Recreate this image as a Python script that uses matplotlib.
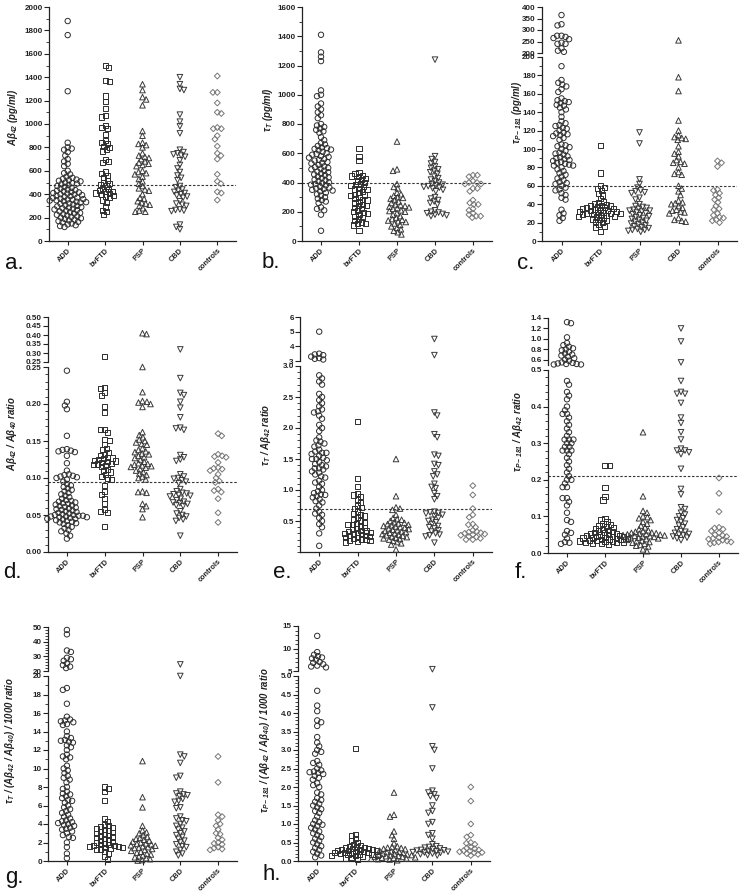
import matplotlib
matplotlib.use('Agg')
import matplotlib.pyplot as plt
import numpy as np

plt.rcParams['font.family'] = ['Liberation Sans', 'DejaVu Sans']
plt.rcParams['font.weight'] = 'bold'
plt.rcParams['mathtext.default'] = 'regular'

W, H = 740, 892
groups = ['ADD', 'bvFTD', 'PSP', 'CBD', 'controls']

# ---- a. Abeta42 (pg/ml)
ADD_a = [1880, 1760, 1280, 840, 800, 790, 780, 760, 730, 700, 680, 660, 640, 600, 580, 570, 550, 540,
         530, 525, 520, 515, 510, 500, 495, 490, 485, 478, 470, 462, 455, 448, 440, 435, 430, 425, 420,
         415, 410, 405, 400, 398, 392, 388, 383, 378, 372, 368, 362, 358, 355, 352, 348, 345, 340, 336,
         332, 328, 322, 318, 312, 306, 300, 296, 290, 285, 280, 275, 270, 264, 258, 252, 246, 240, 235,
         230, 224, 218, 212, 206, 200, 194, 188, 182, 176, 170, 164, 158, 150, 142, 135, 128, 120]
bvFTD_a = [1500, 1480, 1370, 1360, 1240, 1190, 1130, 1070, 1060, 990, 970, 960, 910, 860, 840, 830, 810,
           800, 780, 770, 700, 680, 670, 590, 580, 560, 540, 520, 500, 490, 480, 470, 450, 440, 430, 425,
           420, 410, 405, 400, 390, 380, 370, 350, 330, 290, 260, 250, 225]
PSP_a = [1340, 1290, 1230, 1210, 1160, 940, 900, 840, 830, 820, 800, 750, 730, 720, 710, 700, 680, 670,
         660, 650, 640, 600, 590, 580, 570, 550, 530, 510, 490, 470, 450, 440, 430, 400, 370, 360, 340,
         330, 320, 310, 300, 280, 260, 250, 250]
CBD_a = [1400, 1340, 1300, 1290, 1080, 1020, 980, 920, 780, 760, 750, 740, 730, 720, 690, 650, 620, 590,
         560, 540, 520, 470, 460, 440, 430, 420, 410, 400, 390, 380, 370, 340, 320, 310, 300, 270, 265,
         260, 255, 140, 120, 100]
ctrl_a = [1410, 1270, 1270, 1180, 1100, 1090, 970, 960, 960, 900, 870, 810, 750, 730, 700, 570, 510, 490,
          420, 410, 350]

# ---- b. tau T (pg/ml)
ADD_b = [1410, 1290, 1260, 1230, 1030, 1000, 990, 940, 920, 900, 880, 860, 840, 800, 790, 780, 770, 760,
         750, 740, 710, 690, 670, 660, 650, 640, 635, 630, 625, 620, 610, 600, 595, 590, 580, 575, 570,
         560, 555, 550, 540, 535, 530, 520, 510, 505, 500, 495, 490, 480, 475, 470, 460, 455, 450, 440,
         435, 430, 420, 415, 410, 400, 395, 390, 385, 380, 370, 365, 360, 355, 350, 345, 340, 330, 320,
         310, 300, 290, 280, 270, 260, 230, 220, 210, 180, 70]
bvFTD_b = [630, 580, 550, 470, 460, 450, 445, 440, 430, 420, 410, 400, 390, 385, 380, 370, 360, 355, 350,
           340, 330, 320, 315, 310, 300, 290, 285, 280, 270, 260, 250, 245, 240, 230, 220, 210, 200, 195,
           190, 180, 170, 160, 150, 140, 130, 120, 120, 110, 70]
PSP_b = [680, 490, 480, 390, 370, 360, 330, 320, 310, 300, 295, 290, 280, 270, 260, 250, 245, 240, 235,
         230, 225, 220, 210, 205, 200, 190, 180, 170, 160, 150, 145, 140, 135, 130, 120, 110, 100, 90,
         80, 70, 60, 45]
CBD_b = [1240, 580, 560, 540, 530, 510, 500, 490, 480, 470, 460, 440, 430, 420, 410, 400, 390, 385, 380,
         375, 370, 365, 360, 350, 340, 300, 290, 280, 270, 260, 250, 210, 200, 195, 190, 185, 180, 175,
         170]
ctrl_b = [450, 450, 440, 410, 400, 400, 390, 390, 360, 360, 340, 280, 260, 250, 250, 220, 210, 190, 180,
          170, 170, 160]

# ---- c. tau P-181 (pg/ml)
ADD_c = [365, 325, 320, 275, 275, 270, 265, 260, 245, 240, 240, 220, 210, 205, 190, 175, 172, 170, 168,
         165, 162, 155, 153, 152, 151, 150, 148, 147, 145, 143, 140, 135, 130, 128, 126, 125, 123, 122,
         120, 118, 117, 116, 115, 114, 112, 110, 105, 104, 103, 102, 100, 98, 96, 95, 94, 92, 91, 90, 89,
         88, 87, 86, 85, 84, 83, 82, 82, 80, 78, 76, 74, 72, 70, 68, 66, 64, 63, 62, 60, 58, 56, 55, 52,
         50, 47, 45, 34, 30, 28, 25, 22]
bvFTD_c = [104, 74, 60, 58, 57, 55, 52, 50, 46, 43, 42, 41, 40, 39, 38, 38, 37, 36, 36, 35, 35, 34, 34,
           33, 33, 32, 32, 31, 31, 30, 30, 30, 29, 29, 28, 28, 27, 27, 26, 25, 24, 23, 22, 21, 20, 18,
           16, 15, 10]
PSP_c = [118, 106, 67, 62, 58, 55, 54, 53, 52, 47, 45, 40, 38, 37, 36, 35, 34, 33, 33, 32, 31, 30, 29,
         28, 27, 26, 25, 24, 23, 22, 21, 20, 19, 18, 17, 16, 15, 14, 13, 12, 12, 11, 10]
CBD_c = [255, 178, 163, 131, 120, 115, 113, 112, 111, 110, 103, 97, 95, 92, 88, 86, 85, 84, 80, 75, 73,
         72, 60, 57, 54, 50, 44, 42, 41, 40, 38, 36, 34, 33, 32, 31, 30, 25, 23, 22, 21]
ctrl_c = [87, 85, 81, 56, 55, 52, 50, 47, 45, 42, 38, 35, 34, 30, 28, 26, 25, 23, 22, 20]

# ---- d. Abeta42 / Abeta40 ratio
ADD_d = [0.245, 0.203, 0.198, 0.193, 0.157, 0.139, 0.138, 0.137, 0.136, 0.135, 0.13, 0.12, 0.11, 0.105,
         0.104, 0.103, 0.102, 0.101, 0.1, 0.098, 0.095, 0.092, 0.09, 0.088, 0.086, 0.084, 0.082, 0.08,
         0.078, 0.076, 0.074, 0.072, 0.07, 0.069, 0.068, 0.067, 0.066, 0.065, 0.064, 0.063, 0.062, 0.061,
         0.06, 0.059, 0.058, 0.057, 0.056, 0.055, 0.054, 0.053, 0.052, 0.051, 0.05, 0.05, 0.049, 0.049,
         0.048, 0.048, 0.047, 0.047, 0.046, 0.045, 0.045, 0.044, 0.043, 0.042, 0.041, 0.04, 0.039, 0.038,
         0.036, 0.034, 0.032, 0.03, 0.028, 0.025, 0.022, 0.018]
bvFTD_d = [0.28, 0.222, 0.221, 0.215, 0.212, 0.197, 0.188, 0.166, 0.165, 0.162, 0.152, 0.151, 0.145,
           0.14, 0.138, 0.135, 0.132, 0.13, 0.128, 0.127, 0.126, 0.125, 0.124, 0.123, 0.122, 0.121, 0.12,
           0.119, 0.118, 0.117, 0.115, 0.112, 0.11, 0.108, 0.105, 0.102, 0.1, 0.098, 0.09, 0.082, 0.078,
           0.072, 0.065, 0.057, 0.055, 0.053, 0.034]
PSP_d = [0.41, 0.405, 0.25, 0.216, 0.204, 0.203, 0.202, 0.2, 0.196, 0.162, 0.158, 0.155, 0.152, 0.15,
         0.148, 0.146, 0.145, 0.14, 0.138, 0.136, 0.135, 0.133, 0.132, 0.13, 0.128, 0.127, 0.125, 0.122,
         0.12, 0.119, 0.118, 0.117, 0.116, 0.115, 0.114, 0.112, 0.11, 0.108, 0.106, 0.104, 0.102, 0.1,
         0.098, 0.082, 0.081, 0.08, 0.065, 0.062, 0.058, 0.047]
CBD_d = [0.32, 0.235, 0.215, 0.212, 0.203, 0.195, 0.182, 0.168, 0.167, 0.165, 0.131, 0.128, 0.125,
         0.123, 0.105, 0.102, 0.1, 0.099, 0.097, 0.095, 0.093, 0.085, 0.082, 0.08, 0.079, 0.078, 0.077,
         0.076, 0.075, 0.072, 0.07, 0.068, 0.067, 0.066, 0.065, 0.063, 0.062, 0.055, 0.052, 0.05, 0.048,
         0.046, 0.044, 0.042, 0.022]
ctrl_d = [0.16, 0.157, 0.132, 0.13, 0.129, 0.128, 0.121, 0.114, 0.113, 0.112, 0.11, 0.105, 0.1, 0.096,
          0.094, 0.085, 0.083, 0.081, 0.072, 0.053, 0.04]

# ---- e. tau T / Abeta42 ratio
ADD_e = [5.0, 3.5, 3.45, 3.4, 3.3, 3.2, 3.15, 3.1, 2.85, 2.8, 2.75, 2.7, 2.55, 2.5, 2.45, 2.4, 2.35, 2.3,
         2.27, 2.25, 2.2, 2.15, 2.05, 2.0, 1.95, 1.85, 1.8, 1.78, 1.75, 1.72, 1.7, 1.65, 1.62, 1.6, 1.6,
         1.58, 1.55, 1.52, 1.5, 1.5, 1.48, 1.45, 1.42, 1.4, 1.38, 1.35, 1.35, 1.33, 1.3, 1.28, 1.25, 1.22,
         1.2, 1.15, 1.12, 1.1, 1.05, 1.0, 0.98, 0.95, 0.93, 0.92, 0.9, 0.88, 0.85, 0.82, 0.8, 0.75, 0.7,
         0.65, 0.62, 0.6, 0.55, 0.5, 0.45, 0.4, 0.3, 0.1]
bvFTD_e = [2.1, 1.18, 1.05, 0.95, 0.92, 0.9, 0.85, 0.8, 0.75, 0.72, 0.7, 0.65, 0.62, 0.6, 0.58, 0.55,
           0.52, 0.5, 0.48, 0.46, 0.45, 0.44, 0.42, 0.4, 0.38, 0.36, 0.35, 0.34, 0.33, 0.32, 0.31, 0.3,
           0.29, 0.28, 0.27, 0.26, 0.25, 0.24, 0.23, 0.22, 0.21, 0.2, 0.19, 0.18, 0.17, 0.16]
PSP_e = [1.5, 0.9, 0.72, 0.7, 0.68, 0.6, 0.55, 0.53, 0.52, 0.5, 0.48, 0.47, 0.46, 0.45, 0.44, 0.43,
         0.42, 0.41, 0.4, 0.39, 0.38, 0.37, 0.36, 0.35, 0.34, 0.33, 0.32, 0.31, 0.3, 0.29, 0.28, 0.27,
         0.26, 0.25, 0.24, 0.23, 0.22, 0.21, 0.2, 0.18, 0.16, 0.14, 0.12, 0.04]
CBD_e = [4.5, 3.4, 2.25, 2.2, 1.9, 1.85, 1.57, 1.55, 1.42, 1.4, 1.3, 1.25, 1.22, 1.1, 1.05, 1.03, 0.95,
         0.9, 0.85, 0.65, 0.64, 0.63, 0.62, 0.6, 0.58, 0.55, 0.52, 0.5, 0.48, 0.45, 0.42, 0.4, 0.38,
         0.35, 0.33, 0.3, 0.28, 0.27, 0.25, 0.15]
ctrl_e = [1.07, 0.92, 0.7, 0.6, 0.56, 0.45, 0.44, 0.4, 0.35, 0.33, 0.32, 0.31, 0.3, 0.29, 0.28, 0.27,
          0.25, 0.24, 0.22, 0.2, 0.2]

# ---- f. tau P-181 / Abeta42 ratio
ADD_f = [1.32, 1.3, 1.03, 0.92, 0.88, 0.85, 0.82, 0.8, 0.78, 0.75, 0.72, 0.7, 0.68, 0.66, 0.63, 0.6,
         0.58, 0.55, 0.54, 0.53, 0.52, 0.52, 0.51, 0.51, 0.47, 0.46, 0.44, 0.43, 0.42,
         0.4, 0.39, 0.38, 0.38, 0.37, 0.36, 0.35, 0.34, 0.33, 0.32, 0.31, 0.31, 0.31, 0.3, 0.3, 0.29,
         0.29, 0.28, 0.28, 0.28, 0.27, 0.26, 0.25, 0.24, 0.23, 0.22, 0.21, 0.2, 0.2, 0.19, 0.18, 0.18,
         0.15, 0.15, 0.14, 0.13, 0.11, 0.09, 0.085, 0.06, 0.055, 0.05, 0.04, 0.03, 0.028, 0.025]
bvFTD_f = [0.24, 0.24, 0.18, 0.155, 0.145, 0.095, 0.09, 0.085, 0.08, 0.078, 0.075, 0.072, 0.07, 0.068,
           0.065, 0.062, 0.06, 0.058, 0.056, 0.055, 0.054, 0.052, 0.05, 0.049, 0.048, 0.047, 0.046,
           0.045, 0.044, 0.043, 0.042, 0.041, 0.04, 0.039, 0.038, 0.037, 0.036, 0.035, 0.034, 0.033,
           0.032, 0.031, 0.03, 0.029, 0.028, 0.027, 0.025, 0.023]
PSP_f = [0.33, 0.155, 0.115, 0.11, 0.1, 0.098, 0.095, 0.09, 0.085, 0.08, 0.075, 0.07, 0.065, 0.062,
         0.06, 0.058, 0.056, 0.055, 0.054, 0.053, 0.052, 0.051, 0.05, 0.049, 0.048, 0.047, 0.046, 0.045,
         0.044, 0.043, 0.042, 0.04, 0.038, 0.036, 0.034, 0.032, 0.03, 0.028, 0.025, 0.022, 0.02, 0.018,
         0.01, 0.005]
CBD_f = [1.2, 0.95, 0.55, 0.47, 0.44, 0.435, 0.435, 0.41, 0.37, 0.355, 0.33, 0.31, 0.285, 0.28, 0.28,
         0.275, 0.27, 0.23, 0.175, 0.16, 0.125, 0.12, 0.11, 0.105, 0.1, 0.095, 0.09, 0.085, 0.08, 0.075,
         0.07, 0.065, 0.06, 0.058, 0.055, 0.052, 0.05, 0.048, 0.045, 0.042, 0.04, 0.035]
ctrl_f = [0.205, 0.163, 0.113, 0.07, 0.068, 0.065, 0.06, 0.055, 0.05, 0.048, 0.045, 0.042, 0.04, 0.038,
          0.035, 0.033, 0.03, 0.03, 0.028, 0.025]

# ---- g. tau T / (Abeta42 / Abeta40) / 1000 ratio
ADD_g = [48, 45, 34, 33, 29, 28, 27, 25, 24, 23, 22, 18.7, 18.5, 17, 15.6, 15.3, 15.2, 15.1, 15.0, 14.8,
         14.7, 14.0, 13.5, 13.3, 13.1, 13.0, 12.9, 12.8, 12.5, 12.3, 12.0, 11.5, 11.3, 11.2, 11.0, 10.3,
         10.0, 9.8, 9.5, 9.2, 9.0, 8.8, 8.5, 8.0, 7.8, 7.5, 7.3, 7.2, 7.0, 6.8, 6.6, 6.5, 6.3, 6.0, 5.8,
         5.6, 5.4, 5.2, 5.0, 4.8, 4.6, 4.4, 4.3, 4.2, 4.1, 4.0, 3.9, 3.8, 3.6, 3.5, 3.4, 3.2, 3.0, 2.8,
         2.6, 2.5, 2.0, 1.5, 0.8, 0.3]
bvFTD_g = [8.0, 7.8, 7.5, 6.5, 4.6, 4.3, 3.9, 3.8, 3.7, 3.6, 3.5, 3.4, 3.3, 3.2, 3.1, 3.0, 2.9, 2.8, 2.7,
           2.6, 2.5, 2.4, 2.3, 2.2, 2.1, 2.0, 1.9, 1.8, 1.75, 1.7, 1.65, 1.6, 1.55, 1.5, 1.45, 1.4, 1.3,
           1.2, 1.0, 0.8, 0.5, 0.2]
PSP_g = [10.8, 6.9, 5.8, 3.8, 3.3, 3.1, 3.0, 2.8, 2.6, 2.5, 2.4, 2.3, 2.2, 2.1, 2.0, 1.9, 1.85, 1.8,
         1.7, 1.65, 1.6, 1.5, 1.45, 1.4, 1.3, 1.2, 1.1, 1.0, 0.9, 0.8, 0.7, 0.6, 0.5, 0.4, 0.3, 0.2, 0.1,
         0.05]
CBD_g = [24.5, 20.0, 11.5, 11.3, 10.6, 9.2, 9.0, 7.5, 7.3, 7.2, 7.1, 7.0, 6.7, 6.5, 6.4, 5.8, 5.7, 4.8,
         4.6, 4.4, 4.3, 4.0, 3.8, 3.6, 3.4, 3.2, 3.0, 2.8, 2.6, 2.4, 2.2, 2.0, 1.8, 1.6, 1.5, 1.2, 1.0,
         0.8, 0.6]
ctrl_g = [11.3, 8.5, 5.0, 4.8, 4.4, 4.0, 3.8, 3.4, 3.0, 2.9, 2.5, 2.3, 2.0, 1.9, 1.8, 1.5, 1.4, 1.3, 1.2]

# ---- h. tau P-181 / (Abeta42 / Abeta40) / 1000 ratio
ADD_h = [12.8, 9.2, 8.6, 8.3, 8.0, 7.8, 7.5, 7.0, 6.8, 6.5, 6.2, 6.0, 5.8, 4.6, 4.2, 4.05, 3.8, 3.75,
         3.65, 3.35, 3.2, 3.1, 3.0, 2.95, 2.9, 2.7, 2.65, 2.6, 2.5, 2.45, 2.42, 2.4, 2.38, 2.35, 2.3, 2.25,
         2.2, 2.1, 2.05, 2.0, 1.85, 1.8, 1.7, 1.65, 1.6, 1.55, 1.5, 1.45, 1.4, 1.35, 1.3, 1.2, 1.1, 1.05,
         1.0, 0.98, 0.95, 0.9, 0.85, 0.8, 0.75, 0.7, 0.65, 0.6, 0.55, 0.5, 0.45, 0.4, 0.35, 0.3, 0.25,
         0.2, 0.15, 0.1]
bvFTD_h = [3.05, 0.72, 0.68, 0.6, 0.55, 0.5, 0.45, 0.42, 0.4, 0.38, 0.36, 0.35, 0.34, 0.33, 0.32, 0.31,
           0.3, 0.29, 0.28, 0.27, 0.26, 0.25, 0.24, 0.23, 0.22, 0.21, 0.2, 0.19, 0.18, 0.17, 0.16, 0.15,
           0.14, 0.12, 0.1, 0.08, 0.05]
PSP_h = [1.85, 1.25, 1.2, 0.8, 0.7, 0.6, 0.48, 0.4, 0.38, 0.36, 0.35, 0.33, 0.32, 0.3, 0.28, 0.26, 0.25,
         0.24, 0.22, 0.2, 0.19, 0.18, 0.17, 0.16, 0.15, 0.14, 0.13, 0.12, 0.11, 0.1, 0.09, 0.08, 0.07,
         0.06, 0.05, 0.04, 0.02]
CBD_h = [5.4, 4.15, 3.1, 3.0, 2.5, 1.9, 1.85, 1.8, 1.75, 1.7, 1.5, 1.35, 1.3, 1.05, 1.0, 0.75, 0.7, 0.6,
         0.45, 0.4, 0.38, 0.36, 0.34, 0.32, 0.3, 0.29, 0.28, 0.27, 0.26, 0.25, 0.24, 0.23, 0.22, 0.2,
         0.18, 0.16, 0.15]
ctrl_h = [2.0, 1.62, 1.0, 0.7, 0.65, 0.5, 0.48, 0.45, 0.38, 0.35, 0.33, 0.3, 0.28, 0.27, 0.25, 0.23,
          0.22, 0.2, 0.18, 0.15]

MARK = ['o', 's', '^', 'v', 'D']
EDGE = ['#2e2e2e', '#2e2e2e', '#3a3a3a', '#3a3a3a', '#777777']
SIZE = [15, 14, 16, 16, 9]


def swarm(ypx, diam=4.1, step=0.4):
    xs = np.zeros(len(ypx))
    placed = []
    for n, i in enumerate(np.argsort(ypx)):
        y = ypx[i]
        near = [(px, py) for px, py in placed if abs(py - y) < diam]
        k = 0
        hit = None
        while hit is None:
            cands = [0.0] if k == 0 else ([k * step, -k * step] if n % 2 else [-k * step, k * step])
            for c in cands:
                if all((c - px) ** 2 + (y - py) ** 2 >= diam ** 2 for px, py in near):
                    hit = c
                    break
            k += 1
        xs[i] = hit
        placed.append((hit, y))
    return xs


def style_axis(ax, ticks, labels, minor, lab_size=5.8):
    ax.set_yticks(ticks)
    ax.set_yticklabels(labels)
    if minor is not None:
        ax.set_yticks(minor, minor=True)
    ax.tick_params(axis='y', which='major', direction='out', length=3.5, width=0.8,
                   labelsize=lab_size, pad=1.0, colors='#222222')
    ax.tick_params(axis='y', which='minor', direction='out', length=2, width=0.6, colors='#222222')
    ax.spines['top'].set_visible(False)
    ax.spines['right'].set_visible(False)
    ax.spines['left'].set_linewidth(0.9)
    ax.spines['left'].set_color('#222222')
    ax.set_facecolor('none')


def draw_panel(p):
    left, right = p['x']
    lo_top, lo_bot = p['lower']
    pw = right - left
    lo0, brk = p['lower_lim']
    ax = fig.add_axes([left / W, 1 - lo_bot / H, pw / W, (lo_bot - lo_top) / H])
    ax.set_xlim(-0.5, 4.5)
    ax.set_ylim(lo0, brk)
    style_axis(ax, *p['lower_ticks'])
    ax.spines['bottom'].set_linewidth(0.9)
    ax.spines['bottom'].set_color('#222222')
    ax.set_xticks(range(5))
    ax.set_xticklabels(groups, rotation=45, ha='right', rotation_mode='anchor', fontsize=5.3)
    ax.tick_params(axis='x', direction='out', length=3, width=0.8, pad=1.5, colors='#222222')

    axu = None
    if 'upper' in p:
        up_top, up_bot = p['upper']
        axu = fig.add_axes([left / W, 1 - up_bot / H, pw / W, (up_bot - up_top) / H])
        axu.set_xlim(-0.5, 4.5)
        axu.set_ylim(*p['upper_lim'])
        style_axis(axu, *p['upper_ticks'])
        axu.spines['bottom'].set_visible(False)
        axu.set_xticks([])

    def to_px(v):
        out = lo_bot - (v - lo0) / (brk - lo0) * (lo_bot - lo_top)
        if axu is not None:
            b2, top = p['upper_lim']
            hi = up_bot - (v - b2) / (top - b2) * (up_bot - up_top)
            out = np.where(v > brk, hi, out)
        return out

    unit = pw / 5.0
    marks = p.get('marks', MARK)
    for i, vals in enumerate(p['data']):
        vals = np.asarray(vals, float)
        xs = i + swarm(to_px(vals)) / unit
        low = vals <= brk
        kw = dict(marker=marks[i], s=SIZE[i], facecolors='none', edgecolors=EDGE[i],
                  linewidths=0.7, clip_on=False, zorder=3)
        ax.scatter(xs[low], vals[low], **kw)
        if axu is not None and (~low).any():
            axu.scatter(xs[~low], vals[~low], **kw)

    if p.get('cutoff') is not None:
        ax.axhline(p['cutoff'], color='#333333', lw=0.8, ls=(0, (2.2, 1.6)), zorder=1)

    fig.text(p['ylab_xy'][0] / W, 1 - p['ylab_xy'][1] / H, p['ylabel'], rotation=90,
             ha='center', va='center', fontsize=6.9, fontweight='bold', fontstyle='italic',
             color='#222222')
    fig.text(p['letter_xy'][0] / W, 1 - p['letter_xy'][1] / H, p['letter'], ha='left',
             va='baseline', fontsize=16, fontweight='normal', color='#111111')


def fmt(vals, f):
    return [f.format(v) for v in vals]


panels = [
    dict(letter='a.', data=[ADD_a, bvFTD_a, PSP_a, CBD_a, ctrl_a], x=(49, 236), lower=(7, 241),
         lower_lim=(0, 2000),
         lower_ticks=(np.arange(0, 2001, 200), fmt(np.arange(0, 2001, 200), '{:.0f}'),
                      np.arange(0, 2001, 100)),
         cutoff=476, ylabel='Aβ$_{42}$ (pg/ml)', ylab_xy=(13, 117), letter_xy=(5, 269)),
    dict(letter='b.', data=[ADD_b, bvFTD_b, PSP_b, CBD_b, ctrl_b], x=(302, 492), lower=(7, 241),
         lower_lim=(0, 1600),
         lower_ticks=(np.arange(0, 1601, 200), fmt(np.arange(0, 1601, 200), '{:.0f}'),
                      np.arange(0, 1601, 100)),
         cutoff=397, ylabel='τ$_{T}$ (pg/ml)', ylab_xy=(268, 110), letter_xy=(262, 268)),
    dict(letter='c.', data=[ADD_c, bvFTD_c, PSP_c, CBD_c, ctrl_c], x=(542, 737), lower=(57, 241),
         lower_lim=(0, 200), upper=(7, 53), upper_lim=(200, 400),
         lower_ticks=(np.arange(0, 201, 20), fmt(np.arange(0, 201, 20), '{:.0f}'),
                      np.arange(0, 201, 10)),
         upper_ticks=(np.arange(200, 401, 50), fmt(np.arange(200, 401, 50), '{:.0f}'), None),
         marks=['o', 's', 'v', '^', 'D'],
         cutoff=60, ylabel='τ$_{P-181}$ (pg/ml)', ylab_xy=(517, 112), letter_xy=(517, 269)),
    dict(letter='d.', data=[ADD_d, bvFTD_d, PSP_d, CBD_d, ctrl_d], x=(48, 237), lower=(367, 552),
         lower_lim=(0, 0.25), upper=(317, 362), upper_lim=(0.25, 0.5),
         lower_ticks=(np.arange(0, 0.251, 0.05), fmt(np.arange(0, 0.251, 0.05), '{:.2f}'),
                      np.arange(0, 0.251, 0.01)),
         upper_ticks=(np.arange(0.25, 0.501, 0.05), fmt(np.arange(0.25, 0.501, 0.05), '{:.2f}'), None),
         cutoff=0.094, ylabel='Aβ$_{42}$ / Aβ$_{40}$ ratio', ylab_xy=(12, 433), letter_xy=(3, 578)),
    dict(letter='e.', data=[ADD_e, bvFTD_e, PSP_e, CBD_e, ctrl_e], x=(300, 492), lower=(366, 552),
         lower_lim=(0, 3), upper=(317, 361), upper_lim=(3, 6),
         lower_ticks=(np.arange(0.5, 3.01, 0.5), fmt(np.arange(0.5, 3.01, 0.5), '{:.1f}'),
                      np.arange(0, 3.01, 0.1)),
         upper_ticks=(np.arange(3, 7), fmt(np.arange(3, 7), '{:.0f}'), None),
         cutoff=0.70, ylabel='τ$_{T}$ / Aβ$_{42}$ ratio', ylab_xy=(266, 435), letter_xy=(273, 578)),
    dict(letter='f.', data=[ADD_f, bvFTD_f, PSP_f, CBD_f, ctrl_f], x=(548, 738), lower=(370, 553),
         lower_lim=(0, 0.5), upper=(318, 365), upper_lim=(0.5, 1.4),
         lower_ticks=(np.arange(0, 0.501, 0.1), fmt(np.arange(0, 0.501, 0.1), '{:.1f}'),
                      np.arange(0, 0.501, 0.02)),
         upper_ticks=(np.arange(0.6, 1.41, 0.2), fmt(np.arange(0.6, 1.41, 0.2), '{:.1f}'), None),
         cutoff=0.21, ylabel='τ$_{P-181}$ / Aβ$_{42}$ ratio', ylab_xy=(518, 432), letter_xy=(515, 578)),
    dict(letter='g.', data=[ADD_g, bvFTD_g, PSP_g, CBD_g, ctrl_g], x=(48, 237), lower=(676, 861),
         lower_lim=(0, 20), upper=(627, 671), upper_lim=(20, 50),
         lower_ticks=(np.arange(0, 21, 2), fmt(np.arange(0, 21, 2), '{:.0f}'), np.arange(0, 21, 1)),
         upper_ticks=(np.arange(20, 51, 10), fmt(np.arange(20, 51, 10), '{:.0f}'), np.arange(20, 51, 2)),
         cutoff=None, ylabel='τ$_{T}$ / (Aβ$_{42}$ / Aβ$_{40}$) / 1000 ratio', ylab_xy=(10, 740),
         letter_xy=(5, 883)),
    dict(letter='h.', data=[ADD_h, bvFTD_h, PSP_h, CBD_h, ctrl_h], x=(298, 490), lower=(676, 861),
         lower_lim=(0, 5), upper=(626, 671), upper_lim=(5, 15),
         lower_ticks=(np.arange(0, 5.01, 0.5), fmt(np.arange(0, 5.01, 0.5), '{:.1f}'),
                      np.arange(0, 5.01, 0.1)),
         upper_ticks=(np.arange(5, 16, 5), fmt(np.arange(5, 16, 5), '{:.0f}'), np.arange(5, 16, 1)),
         cutoff=None, ylabel='τ$_{P-181}$ / (Aβ$_{42}$ / Aβ$_{40}$) / 1000 ratio', ylab_xy=(265, 740),
         letter_xy=(262, 880)),
]

fig = plt.figure(figsize=(W / 100, H / 100), dpi=100)
for p in panels:
    draw_panel(p)

fig.savefig('out.png', dpi=100, facecolor='white')
